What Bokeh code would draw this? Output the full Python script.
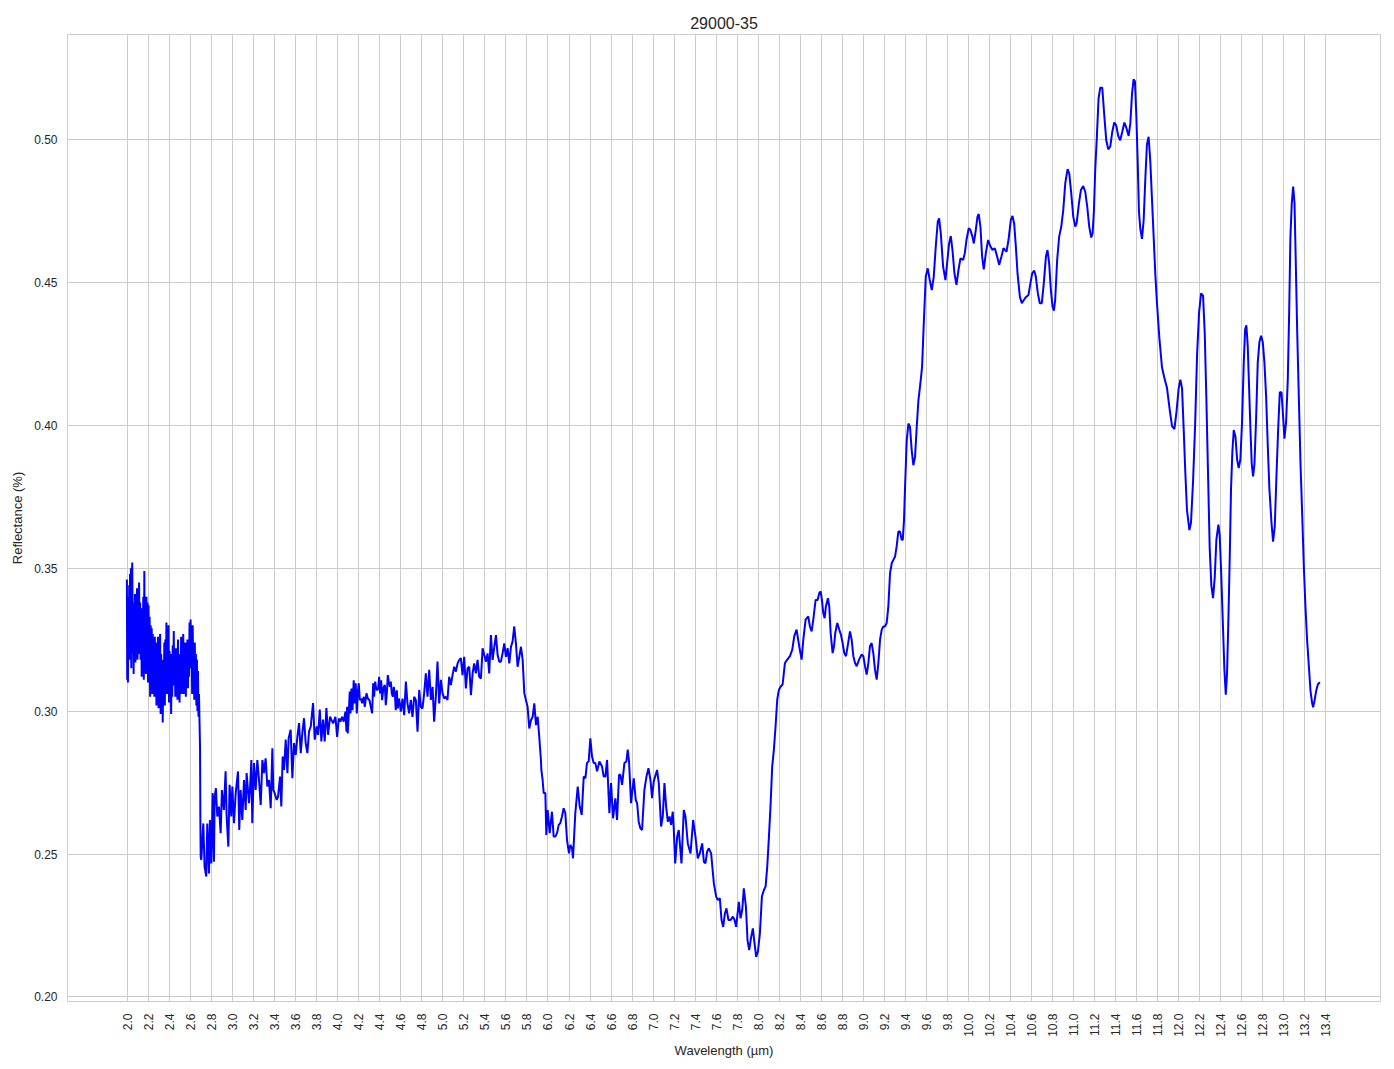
import math
from bokeh.plotting import figure
from bokeh.models import Range1d, FixedTicker, PrintfTickFormatter
from bokeh.embed import file_html
from bokeh.resources import INLINE

TITLE = "29000-35"
X_LABEL = "Wavelength (µm)"
Y_LABEL = "Reflectance (%)"

X_TICKS = [2.0, 2.2, 2.4, 2.6, 2.8, 3.0, 3.2, 3.4, 3.6, 3.8, 4.0, 4.2, 4.4, 4.6, 4.8,
           5.0, 5.2, 5.4, 5.6, 5.8, 6.0, 6.2, 6.4, 6.6, 6.8, 7.0, 7.2, 7.4, 7.6, 7.8,
           8.0, 8.2, 8.4, 8.6, 8.8, 9.0, 9.2, 9.4, 9.6, 9.8, 10.0, 10.2, 10.4, 10.6,
           10.8, 11.0, 11.2, 11.4, 11.6, 11.8, 12.0, 12.2, 12.4, 12.6, 12.8, 13.0,
           13.2, 13.4]
Y_TICKS = [0.20, 0.25, 0.30, 0.35, 0.40, 0.45, 0.50]

# (wavelength µm, reflectance), segment by segment
SEG_2_0 = [
    (1.994, 0.346), (1.997, 0.311), (2.000, 0.333), (2.004, 0.310), (2.008, 0.340),
    (2.012, 0.322), (2.016, 0.344), (2.020, 0.318), (2.024, 0.348), (2.028, 0.325),
    (2.032, 0.350), (2.036, 0.315), (2.040, 0.345), (2.045, 0.352), (2.050, 0.320),
    (2.054, 0.338), (2.058, 0.313), (2.062, 0.336), (2.066, 0.322), (2.070, 0.341),
    (2.075, 0.317), (2.080, 0.337), (2.085, 0.325), (2.090, 0.343), (2.095, 0.318),
    (2.100, 0.339), (2.105, 0.324), (2.110, 0.345), (2.115, 0.320), (2.120, 0.338),
    (2.125, 0.318), (2.130, 0.336), (2.135, 0.312), (2.140, 0.334), (2.145, 0.322),
    (2.150, 0.340), (2.155, 0.311), (2.160, 0.349), (2.165, 0.316), (2.170, 0.335),
    (2.175, 0.313), (2.180, 0.340), (2.185, 0.320), (2.190, 0.338), (2.195, 0.310),
    (2.200, 0.337), (2.205, 0.316), (2.210, 0.333), (2.215, 0.305), (2.220, 0.330),
    (2.225, 0.310), (2.230, 0.329), (2.235, 0.306), (2.240, 0.327), (2.245, 0.312),
    (2.250, 0.322), (2.255, 0.305), (2.260, 0.326), (2.265, 0.313), (2.270, 0.324),
    (2.275, 0.302), (2.280, 0.320), (2.285, 0.307), (2.290, 0.326), (2.295, 0.301),
    (2.300, 0.322), (2.305, 0.310), (2.310, 0.327), (2.315, 0.299), (2.320, 0.320),
    (2.325, 0.305), (2.330, 0.318), (2.335, 0.296), (2.340, 0.316), (2.345, 0.305),
    (2.350, 0.324), (2.355, 0.302), (2.360, 0.325), (2.365, 0.308), (2.370, 0.331),
    (2.375, 0.306), (2.380, 0.326), (2.385, 0.310), (2.390, 0.330), (2.395, 0.303),
    (2.400, 0.321), (2.405, 0.307), (2.410, 0.317), (2.415, 0.299), (2.420, 0.320),
    (2.425, 0.305), (2.430, 0.323), (2.435, 0.311), (2.440, 0.328), (2.445, 0.309),
    (2.450, 0.316), (2.455, 0.305), (2.460, 0.322), (2.465, 0.310), (2.470, 0.318),
    (2.475, 0.304), (2.480, 0.325), (2.485, 0.308), (2.490, 0.320), (2.495, 0.303),
    (2.500, 0.318), (2.505, 0.309), (2.510, 0.326), (2.515, 0.306), (2.520, 0.321),
    (2.525, 0.311), (2.530, 0.327), (2.535, 0.306), (2.540, 0.319), (2.545, 0.310),
    (2.550, 0.324), (2.555, 0.305), (2.560, 0.322), (2.565, 0.312), (2.570, 0.325),
    (2.575, 0.308), (2.580, 0.323), (2.585, 0.312), (2.590, 0.331), (2.595, 0.315),
    (2.600, 0.332), (2.605, 0.318), (2.610, 0.325), (2.615, 0.306), (2.620, 0.330),
    (2.625, 0.314), (2.630, 0.322), (2.635, 0.304), (2.640, 0.324), (2.645, 0.310),
    (2.650, 0.320), (2.655, 0.302), (2.660, 0.318), (2.665, 0.300), (2.670, 0.314),
    (2.675, 0.298), (2.680, 0.306), (2.685, 0.296), (2.690, 0.287), (2.693, 0.262),
    (2.696, 0.249),
]

SEG_2_7 = [
    (2.702, 0.2479), (2.721, 0.2607), (2.733, 0.2456), (2.749, 0.2421), (2.759, 0.2607),
    (2.775, 0.2432), (2.784, 0.2619), (2.797, 0.2467), (2.810, 0.2713), (2.822, 0.2473),
    (2.829, 0.2701), (2.841, 0.2730), (2.854, 0.2631), (2.870, 0.2666), (2.886, 0.2573),
    (2.898, 0.2724), (2.917, 0.2654), (2.933, 0.2789), (2.943, 0.2631), (2.959, 0.2526),
    (2.971, 0.2742), (2.987, 0.2631), (2.997, 0.2736), (3.013, 0.2608), (3.029, 0.2713),
    (3.051, 0.2789), (3.063, 0.2584), (3.076, 0.2724), (3.092, 0.2619), (3.108, 0.2759),
    (3.124, 0.2654), (3.133, 0.2783), (3.156, 0.2678), (3.165, 0.2724), (3.178, 0.2829),
    (3.187, 0.2608), (3.203, 0.2818), (3.219, 0.2724), (3.235, 0.2829), (3.251, 0.2759),
    (3.267, 0.2672), (3.283, 0.2829), (3.298, 0.2783), (3.314, 0.2835), (3.330, 0.2736),
    (3.346, 0.2759), (3.362, 0.2660), (3.378, 0.2870), (3.387, 0.2724), (3.400, 0.2713),
    (3.419, 0.2689), (3.432, 0.2701), (3.451, 0.2771), (3.463, 0.2666), (3.476, 0.2841),
    (3.489, 0.2794), (3.505, 0.2900), (3.521, 0.2783), (3.533, 0.2905), (3.552, 0.2935),
    (3.568, 0.2765), (3.584, 0.2888), (3.600, 0.2847), (3.616, 0.2911), (3.632, 0.2958),
    (3.648, 0.2853), (3.663, 0.2923), (3.679, 0.2975), (3.695, 0.2888), (3.711, 0.2853),
    (3.727, 0.2929), (3.743, 0.2946), (3.765, 0.3028), (3.781, 0.2900), (3.800, 0.2946),
    (3.813, 0.2917), (3.829, 0.3005), (3.844, 0.2894), (3.860, 0.2970), (3.876, 0.2894),
    (3.892, 0.3011), (3.908, 0.2917), (3.927, 0.2981),
]

SEG_3_9 = [
    (3.940, 0.2969), (3.956, 0.2957), (3.978, 0.2980), (3.994, 0.2910), (4.010, 0.2974),
    (4.025, 0.2963), (4.041, 0.2980), (4.057, 0.2963), (4.073, 0.2998), (4.083, 0.2928),
    (4.089, 0.3015), (4.095, 0.2922), (4.105, 0.2992), (4.114, 0.3068), (4.121, 0.2992),
    (4.130, 0.3079), (4.140, 0.3003), (4.152, 0.3108), (4.162, 0.3027), (4.171, 0.3097),
    (4.181, 0.2992), (4.190, 0.3062), (4.200, 0.3097), (4.210, 0.3038), (4.222, 0.3044),
    (4.232, 0.3027), (4.248, 0.3050), (4.257, 0.3015), (4.273, 0.3062), (4.286, 0.3044),
    (4.302, 0.3038), (4.311, 0.3021), (4.327, 0.2992), (4.337, 0.3097), (4.346, 0.3050),
    (4.356, 0.3103), (4.365, 0.3079), (4.375, 0.3073), (4.384, 0.3079), (4.394, 0.3120),
    (4.403, 0.3062), (4.413, 0.3108), (4.422, 0.3038), (4.432, 0.3073), (4.438, 0.3085),
    (4.448, 0.3091), (4.457, 0.3021), (4.467, 0.3062), (4.476, 0.3126), (4.486, 0.3103),
    (4.495, 0.3085), (4.505, 0.3103), (4.514, 0.3062), (4.524, 0.3050), (4.533, 0.3085),
    (4.543, 0.3062), (4.552, 0.3003), (4.562, 0.3073), (4.571, 0.3009), (4.581, 0.3044),
    (4.590, 0.3027), (4.600, 0.2998),
]

SEG_4_6 = [
    (4.616, 0.3044), (4.632, 0.2986), (4.648, 0.3103), (4.663, 0.3027), (4.679, 0.2992),
    (4.695, 0.3039), (4.711, 0.2980), (4.727, 0.3050), (4.743, 0.3039), (4.759, 0.2928),
    (4.775, 0.3074), (4.790, 0.3015), (4.806, 0.3009), (4.822, 0.3062), (4.838, 0.3132),
    (4.854, 0.3050), (4.870, 0.3144), (4.886, 0.3039), (4.902, 0.3085), (4.917, 0.2963),
    (4.933, 0.3050), (4.949, 0.3173), (4.965, 0.3027), (4.981, 0.3109), (4.997, 0.3062),
    (5.013, 0.3044), (5.029, 0.3050), (5.044, 0.3039), (5.060, 0.3120), (5.076, 0.3091),
    (5.092, 0.3126), (5.108, 0.3155), (5.124, 0.3138), (5.140, 0.3167), (5.156, 0.3179),
    (5.171, 0.3185), (5.187, 0.3126), (5.203, 0.3190), (5.219, 0.3079), (5.235, 0.3150),
    (5.251, 0.3155), (5.267, 0.3056), (5.283, 0.3132), (5.298, 0.3167), (5.314, 0.3132),
    (5.330, 0.3179), (5.346, 0.3120), (5.362, 0.3114), (5.378, 0.3220), (5.394, 0.3196),
    (5.410, 0.3173), (5.425, 0.3202), (5.441, 0.3132), (5.457, 0.3266), (5.473, 0.3179),
    (5.489, 0.3225), (5.505, 0.3266), (5.521, 0.3196), (5.537, 0.3173), (5.552, 0.3173),
    (5.568, 0.3202), (5.584, 0.3237), (5.600, 0.3190), (5.616, 0.3220), (5.632, 0.3167),
    (5.648, 0.3225), (5.663, 0.3243), (5.679, 0.3296), (5.695, 0.3237), (5.711, 0.3155),
    (5.727, 0.3190), (5.743, 0.3225), (5.759, 0.3179), (5.775, 0.3062), (5.790, 0.3039),
    (5.806, 0.3015), (5.822, 0.2939), (5.838, 0.2968), (5.854, 0.2980), (5.870, 0.3027),
    (5.886, 0.2951), (5.902, 0.2980), (5.917, 0.2910), (5.933, 0.2828),
]

SEG_5_9 = [
    (5.937, 0.2794), (5.949, 0.2759), (5.959, 0.2713), (5.975, 0.2713), (5.984, 0.2567),
    (5.997, 0.2654), (6.016, 0.2573), (6.038, 0.2648), (6.054, 0.2561), (6.070, 0.2561),
    (6.086, 0.2573), (6.102, 0.2602), (6.117, 0.2608), (6.133, 0.2631), (6.149, 0.2660),
    (6.165, 0.2643), (6.181, 0.2549), (6.200, 0.2502), (6.213, 0.2532), (6.229, 0.2520),
    (6.238, 0.2485), (6.260, 0.2643), (6.283, 0.2736), (6.302, 0.2666), (6.321, 0.2637),
    (6.340, 0.2771), (6.356, 0.2765), (6.371, 0.2818), (6.387, 0.2824), (6.403, 0.2905),
    (6.419, 0.2841), (6.435, 0.2818), (6.451, 0.2818), (6.467, 0.2789), (6.489, 0.2824),
    (6.514, 0.2806), (6.530, 0.2771), (6.546, 0.2771), (6.562, 0.2829), (6.584, 0.2643),
    (6.600, 0.2748), (6.619, 0.2625), (6.641, 0.2695), (6.657, 0.2619), (6.676, 0.2777),
    (6.689, 0.2777), (6.705, 0.2742), (6.727, 0.2818), (6.746, 0.2824), (6.759, 0.2865),
    (6.771, 0.2824), (6.790, 0.2678), (6.816, 0.2765), (6.835, 0.2689), (6.848, 0.2678),
    (6.863, 0.2613), (6.879, 0.2590), (6.895, 0.2584), (6.917, 0.2724), (6.937, 0.2771),
    (6.956, 0.2800), (6.975, 0.2759), (6.990, 0.2695), (7.006, 0.2754), (7.038, 0.2794),
    (7.054, 0.2748), (7.076, 0.2596), (7.092, 0.2631), (7.108, 0.2748), (7.124, 0.2666),
    (7.140, 0.2613), (7.156, 0.2631), (7.171, 0.2602), (7.187, 0.2648), (7.197, 0.2584),
    (7.210, 0.2467), (7.229, 0.2561), (7.244, 0.2584), (7.270, 0.2467), (7.292, 0.2654),
    (7.308, 0.2631), (7.330, 0.2537), (7.356, 0.2502), (7.381, 0.2619), (7.403, 0.2561),
    (7.425, 0.2485), (7.444, 0.2502), (7.467, 0.2537), (7.483, 0.2473), (7.498, 0.2467),
    (7.514, 0.2508), (7.530, 0.2520), (7.552, 0.2502), (7.578, 0.2397), (7.600, 0.2351),
    (7.616, 0.2339), (7.635, 0.2345), (7.651, 0.2269), (7.667, 0.2245), (7.683, 0.2292),
    (7.698, 0.2310), (7.717, 0.2269), (7.737, 0.2269), (7.759, 0.2281), (7.775, 0.2269),
    (7.790, 0.2245), (7.816, 0.2333), (7.832, 0.2275), (7.848, 0.2304), (7.863, 0.2380),
    (7.883, 0.2316), (7.898, 0.2199), (7.914, 0.2164), (7.933, 0.2210), (7.949, 0.2240),
    (7.965, 0.2187), (7.981, 0.2140), (7.997, 0.2158), (8.016, 0.2222), (8.035, 0.2351),
    (8.054, 0.2374), (8.070, 0.2386), (8.086, 0.2456), (8.102, 0.2561), (8.117, 0.2666),
    (8.133, 0.2806), (8.149, 0.2865), (8.165, 0.2946), (8.181, 0.3040), (8.197, 0.3075),
]

SEG_8_2 = [
    (8.216, 0.3087), (8.232, 0.3093), (8.254, 0.3168), (8.276, 0.3180), (8.302, 0.3192),
    (8.324, 0.3215), (8.343, 0.3262), (8.365, 0.3285), (8.390, 0.3227), (8.413, 0.3180),
    (8.429, 0.3250), (8.451, 0.3320), (8.476, 0.3331), (8.492, 0.3296), (8.508, 0.3279),
    (8.524, 0.3320), (8.546, 0.3389), (8.565, 0.3389), (8.581, 0.3413), (8.594, 0.3419),
    (8.606, 0.3389), (8.619, 0.3343), (8.632, 0.3325), (8.644, 0.3366), (8.663, 0.3395),
    (8.676, 0.3366), (8.689, 0.3273), (8.708, 0.3203), (8.721, 0.3227), (8.733, 0.3273),
    (8.752, 0.3308), (8.771, 0.3285), (8.787, 0.3267), (8.803, 0.3238), (8.819, 0.3203),
    (8.835, 0.3192), (8.851, 0.3227), (8.873, 0.3279), (8.889, 0.3250), (8.905, 0.3192),
    (8.921, 0.3168), (8.937, 0.3157), (8.959, 0.3180), (8.984, 0.3198), (9.000, 0.3192),
    (9.016, 0.3157), (9.032, 0.3128), (9.048, 0.3168), (9.063, 0.3227), (9.079, 0.3238),
    (9.095, 0.3203), (9.111, 0.3145), (9.127, 0.3110), (9.143, 0.3168), (9.159, 0.3250),
    (9.175, 0.3285), (9.190, 0.3296), (9.206, 0.3296), (9.222, 0.3308), (9.238, 0.3366),
    (9.254, 0.3482), (9.270, 0.3517), (9.286, 0.3529), (9.302, 0.3541), (9.317, 0.3576),
    (9.333, 0.3628), (9.349, 0.3628), (9.365, 0.3599), (9.375, 0.3599), (9.387, 0.3669),
    (9.397, 0.3785), (9.413, 0.3948), (9.429, 0.4006), (9.444, 0.3994), (9.460, 0.3913),
    (9.476, 0.3860), (9.492, 0.3890), (9.508, 0.3994), (9.524, 0.4087),
]

SEG_9_5 = [
    (9.543, 0.4147), (9.559, 0.4205), (9.575, 0.4357), (9.594, 0.4520), (9.613, 0.4549),
    (9.632, 0.4508), (9.651, 0.4473), (9.670, 0.4520), (9.689, 0.4625), (9.708, 0.4712),
    (9.721, 0.4724), (9.737, 0.4671), (9.759, 0.4555), (9.781, 0.4508), (9.800, 0.4578),
    (9.816, 0.4636), (9.832, 0.4662), (9.848, 0.4613), (9.867, 0.4531), (9.886, 0.4491),
    (9.905, 0.4543), (9.924, 0.4584), (9.949, 0.4578), (9.965, 0.4601), (9.981, 0.4648),
    (10.003, 0.4689), (10.019, 0.4683), (10.038, 0.4660), (10.051, 0.4636), (10.070, 0.4683),
    (10.086, 0.4730), (10.098, 0.4739), (10.114, 0.4695), (10.130, 0.4590), (10.146, 0.4545),
    (10.165, 0.4601), (10.187, 0.4648), (10.210, 0.4625), (10.229, 0.4613), (10.251, 0.4619),
    (10.273, 0.4590), (10.292, 0.4561), (10.314, 0.4590), (10.333, 0.4619), (10.349, 0.4613),
    (10.362, 0.4607), (10.381, 0.4648), (10.403, 0.4718), (10.419, 0.4732), (10.435, 0.4706),
    (10.451, 0.4625), (10.467, 0.4531), (10.489, 0.4450), (10.508, 0.4427), (10.527, 0.4438),
    (10.546, 0.4448), (10.571, 0.4456), (10.590, 0.4497), (10.606, 0.4531), (10.625, 0.4541),
    (10.641, 0.4520), (10.660, 0.4462), (10.679, 0.4427), (10.698, 0.4427), (10.717, 0.4497),
    (10.737, 0.4590), (10.752, 0.4613), (10.768, 0.4566), (10.784, 0.4473), (10.800, 0.4415),
    (10.813, 0.4401), (10.825, 0.4438), (10.844, 0.4578), (10.863, 0.4660), (10.883, 0.4695),
    (10.902, 0.4753), (10.921, 0.4846), (10.943, 0.4896), (10.959, 0.4881), (10.978, 0.4811),
    (10.997, 0.4730), (11.016, 0.4695), (11.029, 0.4706), (11.051, 0.4776), (11.070, 0.4823),
    (11.092, 0.4837), (11.111, 0.4817), (11.130, 0.4765), (11.149, 0.4695), (11.168, 0.4657),
    (11.181, 0.4671), (11.194, 0.4753), (11.206, 0.4893),
]

SEG_11_2 = [
    (11.222, 0.5012), (11.238, 0.5144), (11.254, 0.5181), (11.273, 0.5181), (11.292, 0.5085),
    (11.311, 0.4997), (11.330, 0.4965), (11.349, 0.4975), (11.368, 0.5026), (11.387, 0.5059),
    (11.406, 0.5049), (11.425, 0.5012), (11.444, 0.4997), (11.463, 0.5026), (11.483, 0.5059),
    (11.502, 0.5041), (11.524, 0.5012), (11.540, 0.5056), (11.556, 0.5159), (11.571, 0.5210),
    (11.584, 0.5203), (11.597, 0.5085), (11.610, 0.4924), (11.622, 0.4747), (11.635, 0.4688),
    (11.651, 0.4652), (11.667, 0.4718), (11.683, 0.4865), (11.698, 0.4982), (11.714, 0.5009),
    (11.730, 0.4924), (11.746, 0.4791), (11.762, 0.4659), (11.778, 0.4527), (11.794, 0.4424),
    (11.816, 0.4306), (11.841, 0.4203), (11.863, 0.4167), (11.889, 0.4130), (11.914, 0.4056),
    (11.937, 0.3997), (11.959, 0.3986), (11.978, 0.4042), (12.000, 0.4130), (12.016, 0.4159),
    (12.032, 0.4130), (12.048, 0.3983), (12.063, 0.3836), (12.079, 0.3703), (12.102, 0.3633),
    (12.117, 0.3659), (12.137, 0.3806), (12.156, 0.3997), (12.175, 0.4247), (12.194, 0.4394),
    (12.213, 0.4461), (12.232, 0.4453), (12.248, 0.4321), (12.263, 0.4100), (12.279, 0.3836),
    (12.295, 0.3571), (12.311, 0.3439), (12.327, 0.3395), (12.343, 0.3468), (12.359, 0.3601),
    (12.378, 0.3652), (12.390, 0.3615), (12.403, 0.3498), (12.419, 0.3321), (12.435, 0.3145),
    (12.448, 0.3057), (12.460, 0.3130), (12.473, 0.3321), (12.486, 0.3542), (12.498, 0.3777),
    (12.511, 0.3909), (12.524, 0.3983), (12.540, 0.3961), (12.556, 0.3880), (12.571, 0.3850),
    (12.587, 0.3880), (12.603, 0.4012), (12.619, 0.4218), (12.632, 0.4336), (12.644, 0.4350),
    (12.657, 0.4277), (12.670, 0.4130), (12.683, 0.3983), (12.695, 0.3865), (12.708, 0.3821),
    (12.721, 0.3865), (12.737, 0.4027), (12.752, 0.4218), (12.768, 0.4291), (12.784, 0.4313),
    (12.800, 0.4291), (12.816, 0.4218), (12.832, 0.4100), (12.848, 0.3924), (12.863, 0.3777),
    (12.883, 0.3659), (12.898, 0.3593), (12.914, 0.3645), (12.930, 0.3821), (12.946, 0.3983),
    (12.962, 0.4115), (12.978, 0.4115), (12.994, 0.4027), (13.006, 0.3953), (13.022, 0.4012),
    (13.038, 0.4159), (13.051, 0.4394), (13.063, 0.4659), (13.076, 0.4777), (13.089, 0.4835),
    (13.102, 0.4777), (13.114, 0.4571), (13.127, 0.4336), (13.143, 0.4100), (13.159, 0.3865),
    (13.175, 0.3689), (13.190, 0.3512), (13.206, 0.3365), (13.222, 0.3248), (13.238, 0.3160),
    (13.254, 0.3071), (13.270, 0.3027), (13.279, 0.3013), (13.292, 0.3035), (13.308, 0.3071),
    (13.324, 0.3093), (13.343, 0.3101),
]

SEGMENTS = [SEG_2_0, SEG_2_7, SEG_3_9, SEG_4_6, SEG_5_9, SEG_8_2, SEG_9_5, SEG_11_2]
wavelength = [pt[0] for seg in SEGMENTS for pt in seg]
reflectance = [pt[1] for seg in SEGMENTS for pt in seg]

FONT = "Liberation Sans"
TEXT = "#262626"
GRID = "#cccccc"

p = figure(width=1386, height=1061, output_backend="svg", toolbar_location=None,
           x_range=Range1d(1.429, 13.92), y_range=Range1d(0.1984, 0.5367),
           min_border_left=67, min_border_right=6, min_border_top=34,
           min_border_bottom=60, background_fill_color="white",
           border_fill_color="white")

p.title.text = TITLE
p.title.align = "center"
p.title.text_font = FONT
p.title.text_font_size = "16px"
p.title.text_font_style = "normal"
p.title.text_color = TEXT
p.title.standoff = 12

p.line(wavelength, reflectance, line_color="#0000ff", line_width=2)

p.outline_line_color = GRID
p.outline_line_width = 1

p.xaxis.ticker = FixedTicker(ticks=X_TICKS)
p.xaxis.formatter = PrintfTickFormatter(format="%.1f")
p.xaxis.major_label_orientation = math.pi / 2
p.yaxis.ticker = FixedTicker(ticks=Y_TICKS)
p.yaxis.formatter = PrintfTickFormatter(format="%.2f")

p.xaxis.axis_label = X_LABEL
p.yaxis.axis_label = Y_LABEL
for ax in (p.xaxis, p.yaxis):
    ax.axis_line_color = None
    ax.major_tick_line_color = None
    ax.minor_tick_line_color = None
    ax.major_tick_out = 0
    ax.major_tick_in = 0
    ax.minor_tick_out = 0
    ax.minor_tick_in = 0
    ax.major_label_text_font = FONT
    ax.major_label_text_font_size = "12px"
    ax.major_label_text_color = TEXT
    ax.axis_label_text_font = FONT
    ax.axis_label_text_font_size = "13px"
    ax.axis_label_text_font_style = "normal"
    ax.axis_label_text_color = TEXT
p.xaxis.major_label_standoff = 12
p.xaxis.axis_label_standoff = 3
p.yaxis.major_label_standoff = 10
p.yaxis.axis_label_standoff = 6

p.xgrid.grid_line_color = GRID
p.ygrid.grid_line_color = GRID
p.xgrid.grid_line_width = 1
p.ygrid.grid_line_width = 1

open("out.html", "w").write(file_html(p, INLINE))
